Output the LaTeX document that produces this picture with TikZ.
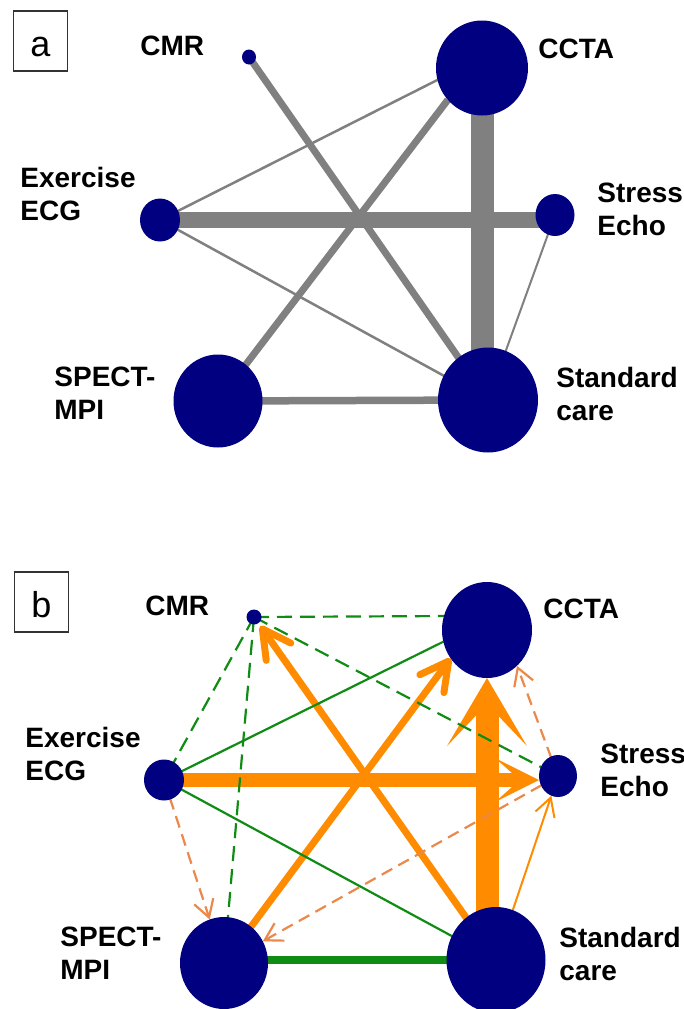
\documentclass[tikz,border=0pt]{standalone}
\usepackage{fontspec}
\setmainfont{Liberation Sans}
\usetikzlibrary{shapes.geometric,arrows.meta}
\pgfdeclarelayer{backdrop}
\pgfdeclarelayer{links}
\pgfsetlayers{backdrop,links,main}
\definecolor{nodeblue}{RGB}{0,0,128}
\definecolor{linkgray}{RGB}{128,128,128}
\definecolor{linkgreen}{RGB}{16,140,20}
\definecolor{linkorange}{RGB}{255,140,0}
\definecolor{paleorange}{RGB}{236,136,74}
\begin{document}
\begin{tikzpicture}[x=0.5pt,y=-0.5pt,
  trial/.style args={#1/#2}{ellipse, fill=nodeblue, inner sep=0pt, outer sep=0pt,
    minimum width=#1pt, minimum height=#2pt},
  tname/.style={anchor=west, inner sep=0pt, align=left,
    font=\fontsize{14pt}{16.5pt}\selectfont\bfseries},
  paneltag/.style={draw=black!80, line width=0.8pt, inner sep=0pt,
    minimum width=27pt, minimum height=30pt, text height=15pt, text depth=0pt,
    font=\fontsize{18pt}{20pt}\selectfont},
  glink/.style={draw=linkgray, line width=#1},
  greenlink/.style={draw=linkgreen, line width=#1},
  greendash/.style={draw=linkgreen, line width=1.1pt, dash pattern=on 7.5pt off 4pt},
  orangelink/.style={draw=linkorange, line width=#1},
  orangedash/.style={draw=paleorange, line width=1.1pt, dash pattern=on 6pt off 3.5pt,
    -{Straight Barb[length=8.5pt, width=10pt]}},
  hugehead/.style={-{Stealth[length=34pt, width=40pt, inset=21pt, line width=0pt]}},
  bighead/.style={-{Stealth[length=22pt, width=22pt, inset=12.5pt, line width=0pt]}},
  midhead/.style={-{Straight Barb[length=14pt, width=15pt, round]}},
  smallhead/.style={-{Straight Barb[length=9pt, width=10pt]}}
]
\begin{pgfonlayer}{backdrop}
  \fill[white] (0,0) rectangle (684,1009);
\end{pgfonlayer}
\useasboundingbox (0,0) rectangle (684,1009);

% ---------------- panel a: network of comparisons ----------------
\node[paneltag] (tagA) at (40.5,41) {a};

\node[trial=7/7.5]     (aCMR)   at (249,57)  {};
\node[trial=46/47.5]   (aCCTA)  at (482,68)  {};
\node[trial=20/21.5]   (aECG)   at (160,220) {};
\node[trial=19.5/21]   (aEcho)  at (555,215) {};
\node[trial=44.5/46.5] (aSPECT) at (218,401) {};
\node[trial=50/52.5]   (aCare)  at (488,400) {};

\node[tname] (aTxtCMR)   at (140,46)    {CMR};
\node[tname] (aTxtCCTA)  at (538,49)    {CCTA};
\node[tname] (aTxtECG)   at (20,194)    {Exercise\\ECG};
\node[tname] (aTxtEcho)  at (597,209)   {Stress\\Echo};
\node[tname] (aTxtSPECT) at (54,393.5)  {SPECT-\\MPI};
\node[tname] (aTxtCare)  at (556,393.5) {Standard\\care};

\begin{pgfonlayer}{links}
  \draw[glink=11.5pt] (aCCTA.center) -- (aCCTA.center |- aCare.center);
  \draw[glink=8pt]    (aECG.center) -- (aECG.center -| aEcho.center);
  \draw[glink=3.5pt]  (aCMR.center) -- (aCare.center);
  \draw[glink=3.5pt]  (aSPECT.center) -- (aCCTA.223);
  \draw[glink=3.75pt] (aSPECT.center) -- (aCare.center);
  \draw[glink=1.25pt] (aECG.center) -- (aCCTA.195);
  \draw[glink=1.25pt] (aECG.center) -- (aCare.center);
  \draw[glink=1pt]    (aEcho.center) -- (aCare.center);
\end{pgfonlayer}

% ---------------- panel b: direction of evidence ----------------
\node[paneltag] (tagB) at (41.5,602) {b};

\node[trial=7.5/7.5]   (bCMR)   at (254,617) {};
\node[trial=45/48]     (bCCTA)  at (487,630) {};
\node[trial=20/20.5]   (bECG)   at (164,780) {};
\node[trial=19/21]     (bEcho)  at (558,776) {};
\node[trial=44/46]     (bSPECT) at (224,963) {};
\node[trial=49.5/53]   (bCare)  at (496,960) {};

\node[tname] (bTxtCMR)   at (145,606)   {CMR};
\node[tname] (bTxtCCTA)  at (543,609)   {CCTA};
\node[tname] (bTxtECG)   at (25,753.5)  {Exercise\\ECG};
\node[tname] (bTxtEcho)  at (600,770.5) {Stress\\Echo};
\node[tname] (bTxtSPECT) at (60,953.5)  {SPECT-\\MPI};
\node[tname] (bTxtCare)  at (559,953.5) {Standard\\care};

\begin{pgfonlayer}{links}
  % orange: directed comparisons
  \draw[orangelink=11.5pt, hugehead] (bCCTA.south |- bCare.center) -- (bCCTA.south);
  \draw[orangelink=7pt, bighead]     (bECG.center) -- (bECG.center -| bEcho.west);
  \draw[orangelink=3.5pt, midhead]   (bSPECT.center) -- (bCCTA.218);
  \draw[orangelink=3.5pt, midhead, shorten >=1.75pt] (bCare.center) -- (bCMR);
  \draw[orangelink=1pt, smallhead]   (bCare.center) -- (bEcho);
  \draw[orangedash] (bECG.center) -- (bSPECT);
  \draw[orangedash] (bEcho.center) -- (bSPECT);
  \draw[orangedash] (bEcho.center) -- (bCCTA.310);
  % green: undirected comparisons
  \draw[greendash] (bCMR.center) -- (bCCTA.162);
  \draw[greendash] (bCMR.center) -- (bECG.center);
  \draw[greendash] (bCMR.center) -- (bSPECT.center);
  \draw[greendash] (bCMR.center) -- (bEcho.center);
  \draw[greenlink=1.1pt] (bECG.center) -- (bCCTA.195);
  \draw[greenlink=1.1pt] (bECG.center) -- (bCare.center);
  \draw[greenlink=4pt]   (bSPECT.center |- bCare.center) -- (bCare.center);
\end{pgfonlayer}
\end{tikzpicture}
\end{document}
